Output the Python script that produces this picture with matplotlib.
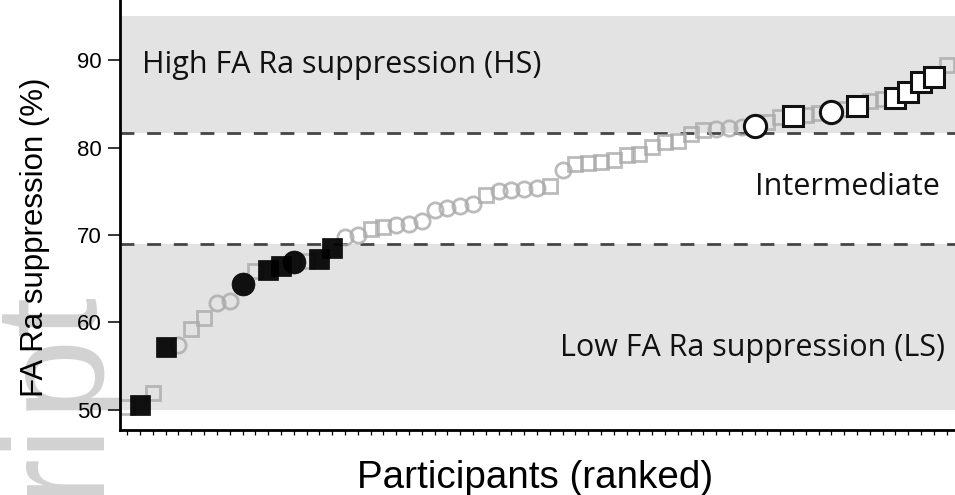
import numpy as np
import matplotlib
matplotlib.use("Agg")
import matplotlib.pyplot as plt

# participants ranked by FA Ra suppression (%)
suppression = [50.3, 50.6, 51.9, 57.2, 57.4, 59.3, 60.5, 62.2, 62.4, 64.4,
               65.9, 66.0, 66.4, 66.9, 67.0, 67.3, 68.5, 69.8, 70.0, 70.7,
               70.9, 71.1, 71.3, 71.6, 72.8, 73.1, 73.3, 73.5, 74.6, 75.0,
               75.1, 75.3, 75.4, 75.6, 77.4, 78.1, 78.2, 78.4, 78.6, 79.1,
               79.3, 80.1, 80.6, 80.8, 81.6, 82.0, 82.1, 82.2, 82.3, 82.5,
               82.9, 83.5, 83.6, 83.7, 83.9, 84.1, 84.4, 84.8, 85.3, 85.5,
               85.7, 86.4, 87.5, 88.1, 89.4]
# s = square, o = circle
shape = ['s', 's', 's', 's', 'o', 's', 's', 'o', 'o', 'o',
         's', 's', 's', 'o', 's', 's', 's', 'o', 'o', 's',
         's', 'o', 'o', 'o', 'o', 'o', 'o', 'o', 's', 'o',
         'o', 'o', 'o', 's', 'o', 's', 's', 's', 's', 's',
         's', 's', 's', 's', 's', 's', 'o', 'o', 'o', 'o',
         's', 's', 's', 's', 's', 'o', 's', 's', 's', 's',
         's', 's', 's', 's', 's']
# '' = not selected, 'LS' / 'HS' = selected low / high suppressors
group = ['', 'LS', '', 'LS', '', '', '', '', '', 'LS',
         '', 'LS', 'LS', 'LS', '', 'LS', 'LS', '', '', '',
         '', '', '', '', '', '', '', '', '', '',
         '', '', '', '', '', '', '', '', '', '',
         '', '', '', '', '', '', '', '', '', 'HS',
         '', '', 'HS', '', '', 'HS', '', 'HS', '', '',
         'HS', 'HS', 'HS', 'HS', '']
ranks = np.arange(1, len(suppression) + 1)

hs_cut = 81.7
ls_cut = 69.0
band_top = 95.0
band_bottom = 50.0
yticks = [50, 60, 70, 80, 90]

fig = plt.figure(figsize=(9.55, 4.95), dpi=100)
ax = fig.add_axes([120/955, 65/495, 835/955, 430/495])

ax.axhspan(hs_cut, band_top, color='#e3e3e3', lw=0, zorder=0)
ax.axhspan(band_bottom, ls_cut, color='#e3e3e3', lw=0, zorder=0)
for yc in (hs_cut, ls_cut):
    ax.axhline(yc, color='#454545', lw=2.0, dashes=(5, 4.6), zorder=1)

# background participants
for x, y, m, g in zip(ranks, suppression, shape, group):
    if g == '':
        ms = 9.6 if m == 's' else 11.0
        ax.plot(x, y, m, ms=ms, mfc='none', mec='#aaaaaa', mew=2.0, alpha=0.8, zorder=2)
# studied participants
for x, y, m, g in zip(ranks, suppression, shape, group):
    if g == 'LS':
        ms = 15.0 if m == 's' else 16.5
        ax.plot(x, y, m, ms=ms, mfc='black', mec='black', mew=0.5, alpha=0.93, zorder=3)
    elif g == 'HS':
        ms = 14.0 if m == 's' else 16.0
        ax.plot(x, y, m, ms=ms, mfc='white', mec='#111111', mew=2.2, zorder=3)

ax.set_xlim(0.43, 65.66)
ax.set_ylim(47.71, 96.86)
ax.set_xticks(ranks)
ax.set_xticklabels([])
ax.set_yticks(yticks)
ax.set_yticklabels([str(t) for t in yticks], fontsize=16, family='Liberation Sans')
ax.tick_params(axis='x', length=3.6, width=0.9, direction='out')
ax.tick_params(axis='y', length=8.6, width=1.1, pad=4.3)

for side in ('top', 'right'):
    ax.spines[side].set_visible(False)
for side in ('left', 'bottom'):
    ax.spines[side].set_linewidth(2.0)

txt = dict(family='Open Sans', color='#111111', fontsize=22)
ax.text(2.13, 88.48, 'High FA Ra suppression (HS)', ha='left', va='baseline', **txt)
ax.text(64.49, 74.57, 'Intermediate', ha='right', va='baseline', **txt)
ax.text(64.88, 56.17, 'Low FA Ra suppression (LS)', ha='right', va='baseline', **txt)

fig.text(35/955, 1 - 237/495, 'FA Ra suppression (%)', rotation=90, ha='center', va='center',
         fontsize=22.5, family='Liberation Sans')
fig.text(535.5/955, 7/495, 'Participants (ranked)', ha='center', va='baseline',
         fontsize=27.8, family='Liberation Sans')

# journal watermark fragment on the left edge, letters widely spaced
for letter, ystart in zip('ript', (497, 450, 410, 335)):
    fig.text(0.0995, 1 - ystart/495, letter, rotation=90, rotation_mode='anchor',
             ha='left', va='baseline', fontsize=104, family='Liberation Sans',
             color='#d2d2d2', zorder=-1)

fig.savefig('out.png', dpi=100)
